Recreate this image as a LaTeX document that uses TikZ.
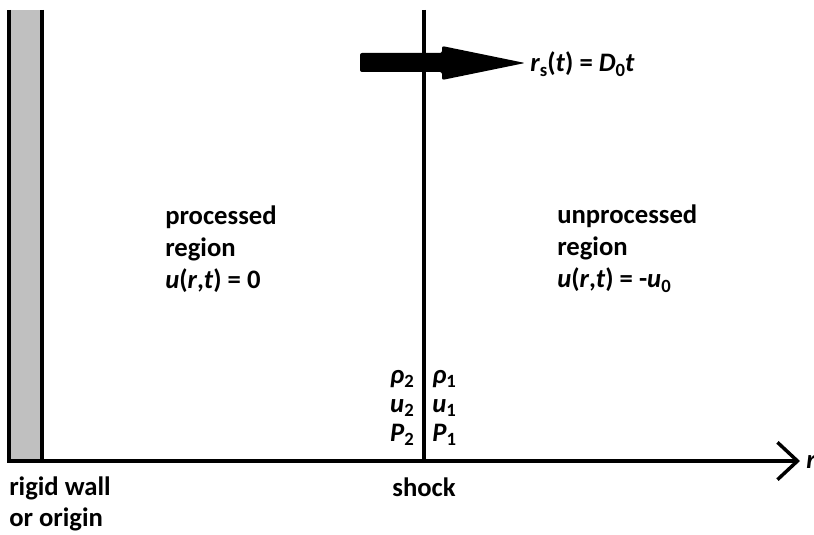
\documentclass[tikz,border=0pt]{standalone}
\usepackage{fontspec}
\setmainfont{Carlito}
\usetikzlibrary{arrows.meta}
\definecolor{wallGray}{HTML}{C0C0C0}
\newcommand{\lowsub}[1]{\raisebox{-0.18em}{\fontsize{14}{14}\selectfont\upshape #1}}
\newcommand{\var}[1]{\textit{#1}}
\tikzset{
  plaintext/.style={font=\fontsize{20}{24}\selectfont\bfseries,inner sep=0pt},
  regionlabel/.style={plaintext,align=left,anchor=west},
  statelabel/.style={font=\fontsize{20}{21.75}\selectfont\bfseries,inner sep=0pt},
  boldline/.style={line width=3pt},
  axisarrow/.style={boldline,-{Straight Barb[length=15pt,width=28pt,line width=2.6pt]}}
}
\begin{document}
\begin{tikzpicture}[x=0.75pt,y=-0.75pt]
  \useasboundingbox (0,0) rectangle (814,535);
  % wall
  \fill[wallGray] (9,10) rectangle (42,461);
  \draw[boldline] (9,10) -- (9,461);
  \draw[boldline] (42,10) -- (42,461);
  % axis and shock
  \coordinate (origin) at (7,461);
  \coordinate (axisend) at (800,461);
  \coordinate (shocktop) at (424,10);
  \coordinate (shockfoot) at (424,461);
  \draw[axisarrow] (origin) -- (axisend);
  \draw[boldline] (shocktop) -- (shockfoot);
  \node[plaintext,anchor=west] (raxis) at (806,462) {\var{r}};
  % shock motion
  \fill[black,rounded corners=1.5pt] (360,53) -- (442,53) -- (442,46) -- (525,63)
    -- (442,80) -- (442,72) -- (360,72) -- cycle;
  \node[plaintext,anchor=west] (speed) at (530,64)
    {\var{r}\lowsub{s}(\var{t}) = \var{D}\lowsub{0}\var{t}};
  % regions
  \node[regionlabel] (processed) at (165,249)
    {processed\\region\\\var{u}(\var{r},\var{t}) = 0};
  \node[regionlabel] (unprocessed) at (557,249)
    {unprocessed\\region\\\var{u}(\var{r},\var{t}) = -\var{u}\lowsub{0}};
  % states
  \node[statelabel,align=right,anchor=east] (behind) at (414,408)
    {\var{ρ}\lowsub{2}\\\var{u}\lowsub{2}\\\var{P}\lowsub{2}};
  \node[statelabel,align=left,anchor=west] (ahead) at (432,408)
    {\var{ρ}\lowsub{1}\\\var{u}\lowsub{1}\\\var{P}\lowsub{1}};
  % captions
  \node[plaintext,anchor=north] (shock) at (424,478) {shock};
  \node[statelabel,font=\fontsize{20}{23}\selectfont\bfseries,align=left,anchor=north west]
    (wall) at (9,477) {rigid wall\\or origin};
\end{tikzpicture}
\end{document}
